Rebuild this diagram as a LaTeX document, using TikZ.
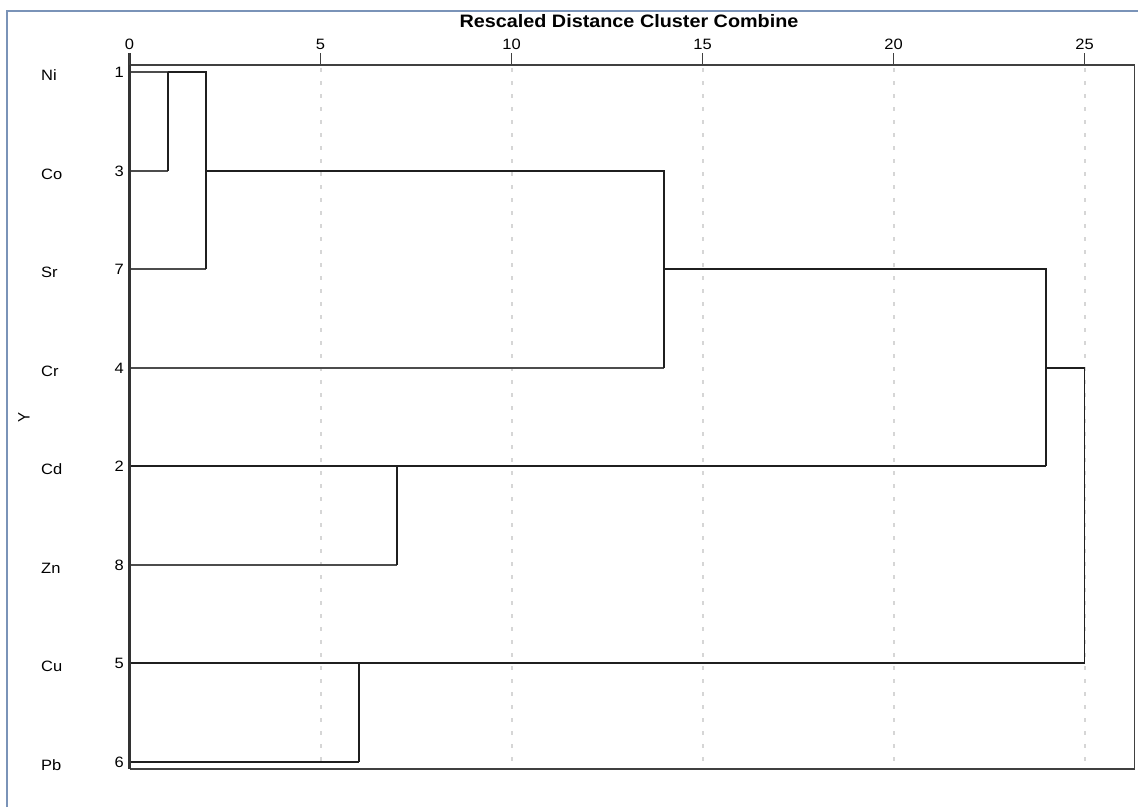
\documentclass[tikz,border=0pt]{standalone}
\usepackage{fontspec}
\setmainfont{Liberation Sans}
\definecolor{framecol}{HTML}{7A93B8}
\begin{document}
\begin{tikzpicture}[x=1pt,y=-1pt,
  txt/.style={inner sep=0pt, font=\fontsize{15}{15}\selectfont, xscale=1.1},
  ttl/.style={inner sep=0pt, font=\bfseries\fontsize{18}{18}\selectfont, xscale=1.1},
  gridline/.style={line width=2pt, color=black!16, dash pattern=on 4pt off 9pt},
  leaf/.style={line width=1.4pt, color=black!70},
  merge/.style={line width=1.9pt, color=black!88},
  frame/.style={line width=1.8pt, color=framecol},
  boxline/.style={line width=1.8pt, color=black!75}]
\useasboundingbox (0,0) rectangle (1138,807);
% outer frame
\draw[frame] (7,807) -- (7,11) -- (1138,11);
% grid
\foreach \u in {5,10,...,25}{
  \pgfmathsetmacro\xx{129.5+38.2*\u}
  \draw[gridline] (\xx,68) -- (\xx,767);
}
% leaf coordinates
\coordinate (L1) at (129.5,72);
\coordinate (L3) at (129.5,171);
\coordinate (L7) at (129.5,269);
\coordinate (L4) at (129.5,368);
\coordinate (L2) at (129.5,466);
\coordinate (L8) at (129.5,565);
\coordinate (L5) at (129.5,663);
\coordinate (L6) at (129.5,762);
% merge coordinates
\coordinate (A1) at (167.7,72);
\coordinate (A2) at (167.7,171);
\coordinate (B1) at (205.9,72);
\coordinate (B2) at (205.9,269);
\coordinate (Bm) at (205.9,171);
\coordinate (C1) at (664.3,171);
\coordinate (C2) at (664.3,368);
\coordinate (Cm) at (664.3,269);
\coordinate (D1) at (396.9,466);
\coordinate (D2) at (396.9,565);
\coordinate (E1) at (1046.3,269);
\coordinate (E2) at (1046.3,466);
\coordinate (Em) at (1046.3,368);
\coordinate (F1) at (358.7,663);
\coordinate (F2) at (358.7,762);
\coordinate (G1) at (1084.5,368);
\coordinate (G2) at (1084.5,663);
% leaves
\draw[leaf] (L1) -- (A1);
\draw[leaf] (L3) -- (A2);
\draw[leaf] (L7) -- (B2);
\draw[leaf] (L4) -- (C2);
\draw[merge] (L2) -- (D1);
\draw[leaf] (L8) -- (D2);
\draw[merge] (L5) -- (F1);
\draw[merge] (L6) -- (F2);
% merges
\draw[merge] (A1) -- (A2);
\draw[merge] (A1) -- (B1) -- (B2);
\draw[merge] (Bm) -- (C1) -- (C2);
\draw[merge] (D1) -- (D2);
\draw[merge] (Cm) -- (E1) -- (E2);
\draw[merge] (D1) -- (E2);
\draw[merge] (F1) -- (F2);
\draw[merge] (Em) -- (G1) -- (G2);
\draw[merge] (F1) -- (G2);
% plot box and axis
\draw[boxline] (129.5,65) -- (1134.5,65) -- (1134.5,769) -- (129.5,769);
\draw[line width=2.4pt, color=black!80] (129.5,53) -- (129.5,769);
\foreach \u in {0,5,...,25}{
  \pgfmathsetmacro\xx{129.5+38.2*\u}
  \draw[boxline] (\xx,53) -- (\xx,65);
  \node[txt] (t\u) at (\xx,44) {\u};
}
% title and axis label
\node[ttl] (title) at (629,21.5) {Rescaled Distance Cluster Combine};
\node[txt, rotate=90] (ylab) at (24,417) {Y};
% row labels
\foreach \n/\k/\yy in {Ni/1/72, Co/3/171, Sr/7/269, Cr/4/368, Cd/2/466, Zn/8/565, Cu/5/663, Pb/6/762}{
  \node[txt, anchor=west] (n\n) at (41,{\yy+3}) {\n};
  \node[txt, anchor=east] (k\n) at (124,{\yy+0.5}) {\k};
}
\end{tikzpicture}
\end{document}
